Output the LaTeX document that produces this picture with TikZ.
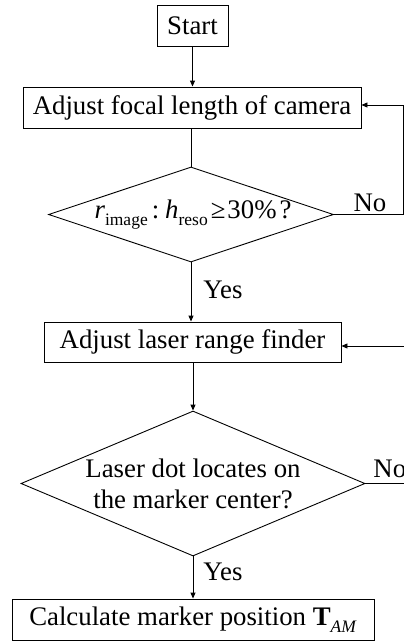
\documentclass[tikz,border=0pt]{standalone}
\usepackage{fontspec}
\setmainfont{Liberation Serif}
\usetikzlibrary{shapes.geometric,arrows.meta}
\newcommand{\lowsub}[1]{\raisebox{-0.28em}{\fontsize{17.5}{17.5}\selectfont #1}}
\begin{document}
\begin{tikzpicture}[x=1pt,y=-1pt,
  font=\fontsize{26.8}{31}\selectfont,
  line width=0.9pt,
  box/.style={draw, rectangle, inner sep=0pt},
  dec/.style={draw, diamond, inner sep=0pt},
  arr/.style={-{Triangle[length=6pt,width=5pt]}},
  lbl/.style={inner sep=0pt}]
\clip (0,0) rectangle (404,641);
\node[box, minimum width=71pt, minimum height=41pt] (start) at (192.5,25.5) {Start};
\node[box, minimum width=338pt, minimum height=41pt] (focal) at (192,107.5) {Adjust focal length of camera};
\node[dec, minimum width=285pt, minimum height=95pt,
  label={[lbl,xshift=2pt]center:{\textit{r}\lowsub{image}\hspace{4pt}:\hspace{6pt}\textit{h}\lowsub{reso}\hspace{3pt}≥\hspace{2pt}30\%\hspace{3pt}?}}] (d1) at (191,214.5) {};
\node[box, minimum width=297pt, minimum height=40pt] (laser) at (192.5,342) {Adjust laser range finder};
\node[dec, minimum width=344pt, minimum height=145pt,
  label={[lbl,align=center]center:{Laser dot locates on\\the marker center?}}] (d2) at (193,483.5) {};
\node[box, minimum width=362pt, minimum height=41pt] (calc) at (193,619.5) {Calculate marker position \textbf{T}\lowsub{\textit{AM}}};
\coordinate (r1) at (403,105);
\coordinate (r2) at (412,346);
\draw[arr] (start.south) -- (start.south |- focal.north);
\draw (focal.south -| d1.north) -- (d1.north);
\draw[arr] (d1.south) -- (d1.south |- laser.north);
\draw[arr] (laser.south -| d2.north) -- (d2.north);
\draw[arr] (d2.south) -- (d2.south |- calc.north);
\draw[arr] (d1.east) -| (r1) -- (r1 -| focal.east);
\draw[arr] (d2.east) -| (r2) -- (r2 -| laser.east);
\node[lbl, anchor=base] (no1) at (370,211) {No};
\node[lbl, anchor=base west] (no2) at (373,477) {No};
\node[lbl, anchor=base west] (yes1) at (203,298) {Yes};
\node[lbl, anchor=base west] (yes2) at (203,580) {Yes};
\end{tikzpicture}
\end{document}
